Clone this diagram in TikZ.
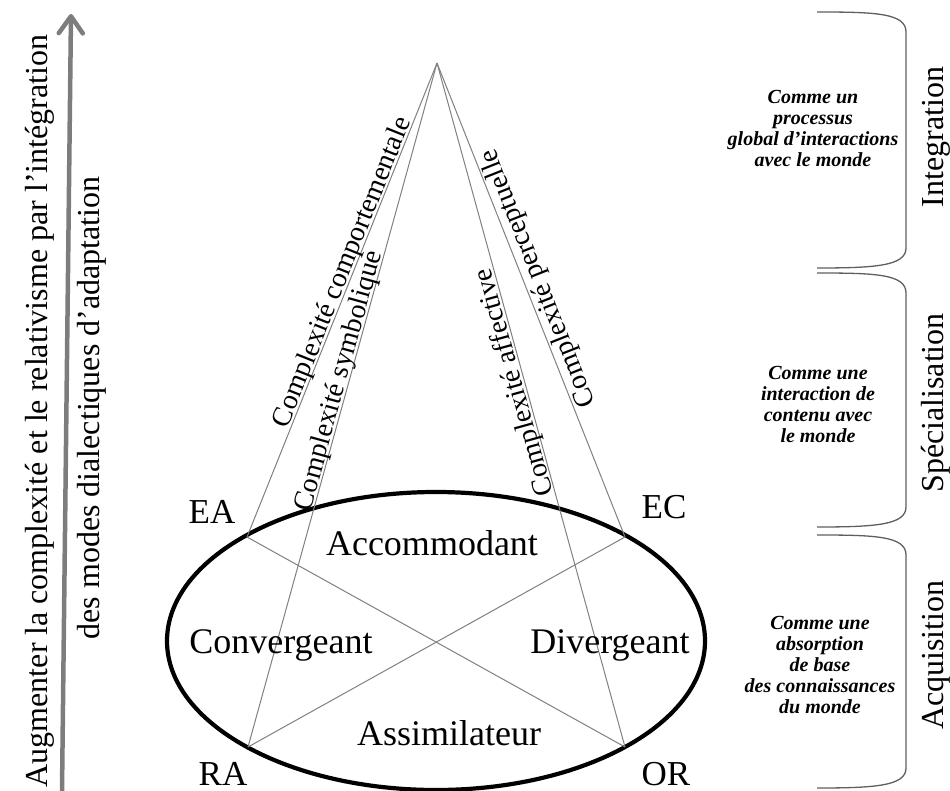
\documentclass[tikz,border=0pt]{standalone}
\usepackage{fontspec}
\setmainfont{Liberation Serif}
\usetikzlibrary{arrows.meta,shapes.geometric}
\definecolor{linegray}{RGB}{128,128,128}
\definecolor{arrowgray}{RGB}{125,125,125}
\definecolor{bracegray}{RGB}{95,95,95}
\begin{document}
\begin{tikzpicture}[x=1pt,y=-1pt,
  conn/.style={draw=linegray, line width=1pt},
  sidetext/.style={font=\fontsize{32}{38}\selectfont, inner sep=0pt, anchor=base, rotate=90},
  pointlabel/.style={font=\fontsize{35}{40}\selectfont, inner sep=0pt, anchor=base},
  stylelabel/.style={font=\fontsize{36}{42}\selectfont, inner sep=0pt, anchor=base},
  linelabel/.style={font=\fontsize{28}{32}\selectfont, inner sep=2pt, text depth=0pt},
  desc/.style={font=\fontsize{20}{21}\selectfont\bfseries\itshape, align=center, inner sep=0pt},
  bracket/.style={draw=bracegray, line width=1.3pt},
]
\useasboundingbox (0,0) rectangle (950,791);

% left arrow and texts
\coordinate (arrS) at (62,791);
\coordinate (arrE) at (71,14);
\draw[arrowgray, line width=4.5pt, -{Straight Barb[length=17pt, width=24pt, round]}] (arrS) -- (arrE);
\node[sidetext] (t1) at (47,411) {Augmenter la complexité et le relativisme par l’intégration};
\node[sidetext] (t2) at (99,408) {des modes dialectiques d’adaptation};

% geometry
\coordinate (apex) at (437,63);
\coordinate (EA) at (247,537);
\coordinate (EC) at (625,537);
\coordinate (RA) at (248,747);
\coordinate (OR) at (625,747);

\node[draw, ellipse, line width=4.2pt, minimum width=538pt, minimum height=298pt, inner sep=0pt] (ell) at (436,641) {};

\draw[conn] (apex) -- (EA) node[linelabel, pos=0.449, anchor=south, rotate=68.2] (lc) {Complexité comportementale};
\draw[conn] (apex) -- (RA) node[linelabel, pos=0.4685, anchor=south, rotate=74.55] (ls) {Complexité symbolique};
\draw[conn] (apex) -- (OR) node[linelabel, pos=0.4635, anchor=south, rotate=105.45] (la) {Complexité affective};
\draw[conn] (apex) -- (EC) node[linelabel, pos=0.466, anchor=north, rotate=111.6] (lp) {Complexité perceptuelle};
\draw[conn] (EA) -- (OR);
\draw[conn] (EC) -- (RA);

% point labels
\node[pointlabel] (lEA) at (212,523) {EA};
\node[pointlabel] (lEC) at (664,518) {EC};
\node[pointlabel] (lRA) at (223,785) {RA};
\node[pointlabel] (lOR) at (666,785) {OR};

% learning styles
\node[stylelabel] (acc) at (432,555) {Accommodant};
\node[stylelabel] (con) at (281,653) {Convergeant};
\node[stylelabel] (div) at (610,653) {Divergeant};
\node[stylelabel] (ass) at (449,745) {Assimilateur};

% right brackets
\draw[bracket] (817,12) .. controls (875,12) and (906,13) .. (906,32) -- (906,248) .. controls (906,266) and (875,268) .. (817,268);
\draw[bracket] (817,273) .. controls (875,273) and (906,274) .. (906,293) -- (906,507) .. controls (906,525) and (875,527) .. (817,527);
\draw[bracket] (817,535) .. controls (875,535) and (906,536) .. (906,555) -- (906,768) .. controls (906,786) and (875,788) .. (817,788);

\node[sidetext] (rI) at (943,137) {Integration};
\node[sidetext] (rS) at (943,403) {Spécialisation};
\node[sidetext] (rA) at (943,655) {Acquisition};

\node[desc] (d1) at (813,128) {Comme un\\processus\\global d’interactions\\avec le monde};
\node[desc] (d2) at (818,404) {Comme une\\interaction de\\contenu avec\\le monde};
\node[desc] (d3) at (820,665) {Comme une\\absorption\\de base\\des connaissances\\du monde};
\end{tikzpicture}
\end{document}
